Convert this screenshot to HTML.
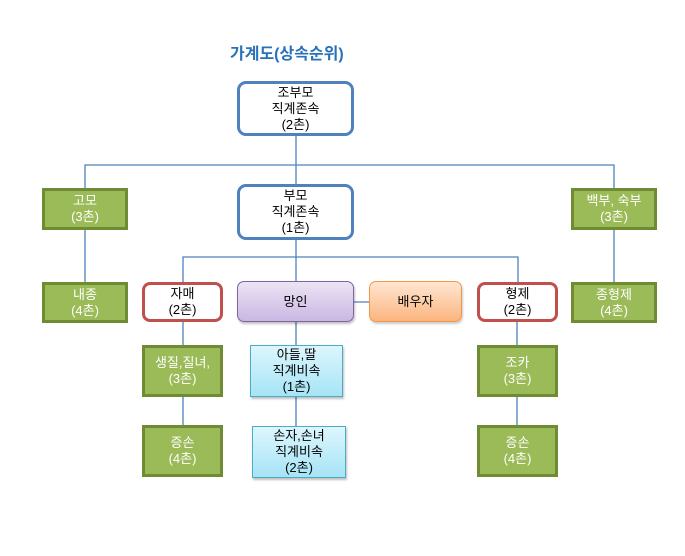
<!DOCTYPE html>
<html><head><meta charset="utf-8"><style>
body{margin:0;width:685px;height:556px;background:#fff;position:relative;overflow:hidden;font-family:"Liberation Sans","Noto Sans CJK KR","NanumGothic",sans-serif;}
.b{position:absolute;box-sizing:border-box;display:flex;align-items:center;justify-content:center;text-align:center;font-size:13px;line-height:16px;color:#000;}
.blue{border:3px solid #4f81bd;border-radius:9px;background:#fff;}
.g{border:3px solid #6f8b34;background:#9bbb59;color:#fff;}
.r{border:3px solid #c0504d;border-radius:8px;background:#fff;}
.c{border:1px solid #4bacc6;background:linear-gradient(#ddf6fd,#a6e4f6);box-shadow:1px 2px 2px rgba(0,0,0,.25);}
svg{position:absolute;left:0;top:0;}
</style></head><body>
<svg width="685" height="556"><g stroke="#4f81bd" stroke-width="1.3" fill="none">
<path d="M296 136V184M85 188V165H614V188M85 230V282M614 230V282M296 240V282M183 282V257H518V282M354 302H369M183 321V345M183 397V425M296 321V345M296 397V426M517 321V345M517 397V425"/></g></svg>
<div style="position:absolute;left:230px;top:40px;font-size:16px;font-weight:bold;color:#2a72b8;">가계도(상속순위)</div>
<div class="b blue" style="left:237px;top:81px;width:117px;height:55px;">조부모<br>직계존속<br>(2촌)</div>
<div class="b blue" style="left:237px;top:184px;width:117px;height:56px;">부모<br>직계존속<br>(1촌)</div>
<div class="b g" style="left:42px;top:188px;width:86px;height:42px;">고모<br>(3촌)</div>
<div class="b g" style="left:571px;top:188px;width:86px;height:42px;">백부, 숙부<br>(3촌)</div>
<div class="b g" style="left:42px;top:282px;width:86px;height:41px;">내종<br>(4촌)</div>
<div class="b g" style="left:571px;top:282px;width:86px;height:41px;">종형제<br>(4촌)</div>
<div class="b r" style="left:142px;top:282px;width:81px;height:40px;">자매<br>(2촌)</div>
<div class="b r" style="left:477px;top:282px;width:81px;height:40px;">형제<br>(2촌)</div>
<div class="b" style="left:237px;top:281px;width:117px;height:41px;border:1px solid #8064a2;border-radius:7px;background:linear-gradient(#ece4f5,#c9b7e2);box-shadow:1px 2px 2px rgba(0,0,0,.25);">망인</div>
<div class="b" style="left:369px;top:281px;width:93px;height:41px;border:1px solid #f79646;border-radius:7px;background:linear-gradient(#ffe6d2,#fbb57e);box-shadow:1px 2px 2px rgba(0,0,0,.2);">배우자</div>
<div class="b g" style="left:142px;top:345px;width:81px;height:52px;">생질,질녀,<br>(3촌)</div>
<div class="b g" style="left:477px;top:345px;width:81px;height:52px;">조카<br>(3촌)</div>
<div class="b g" style="left:142px;top:425px;width:81px;height:52px;">증손<br>(4촌)</div>
<div class="b g" style="left:477px;top:425px;width:81px;height:52px;">증손<br>(4촌)</div>
<div class="b c" style="left:250px;top:345px;width:93px;height:52px;">아들,딸<br>직계비속<br>(1촌)</div>
<div class="b c" style="left:252px;top:426px;width:94px;height:52px;">손자,손녀<br>직계비속<br>(2촌)</div>
</body></html>
